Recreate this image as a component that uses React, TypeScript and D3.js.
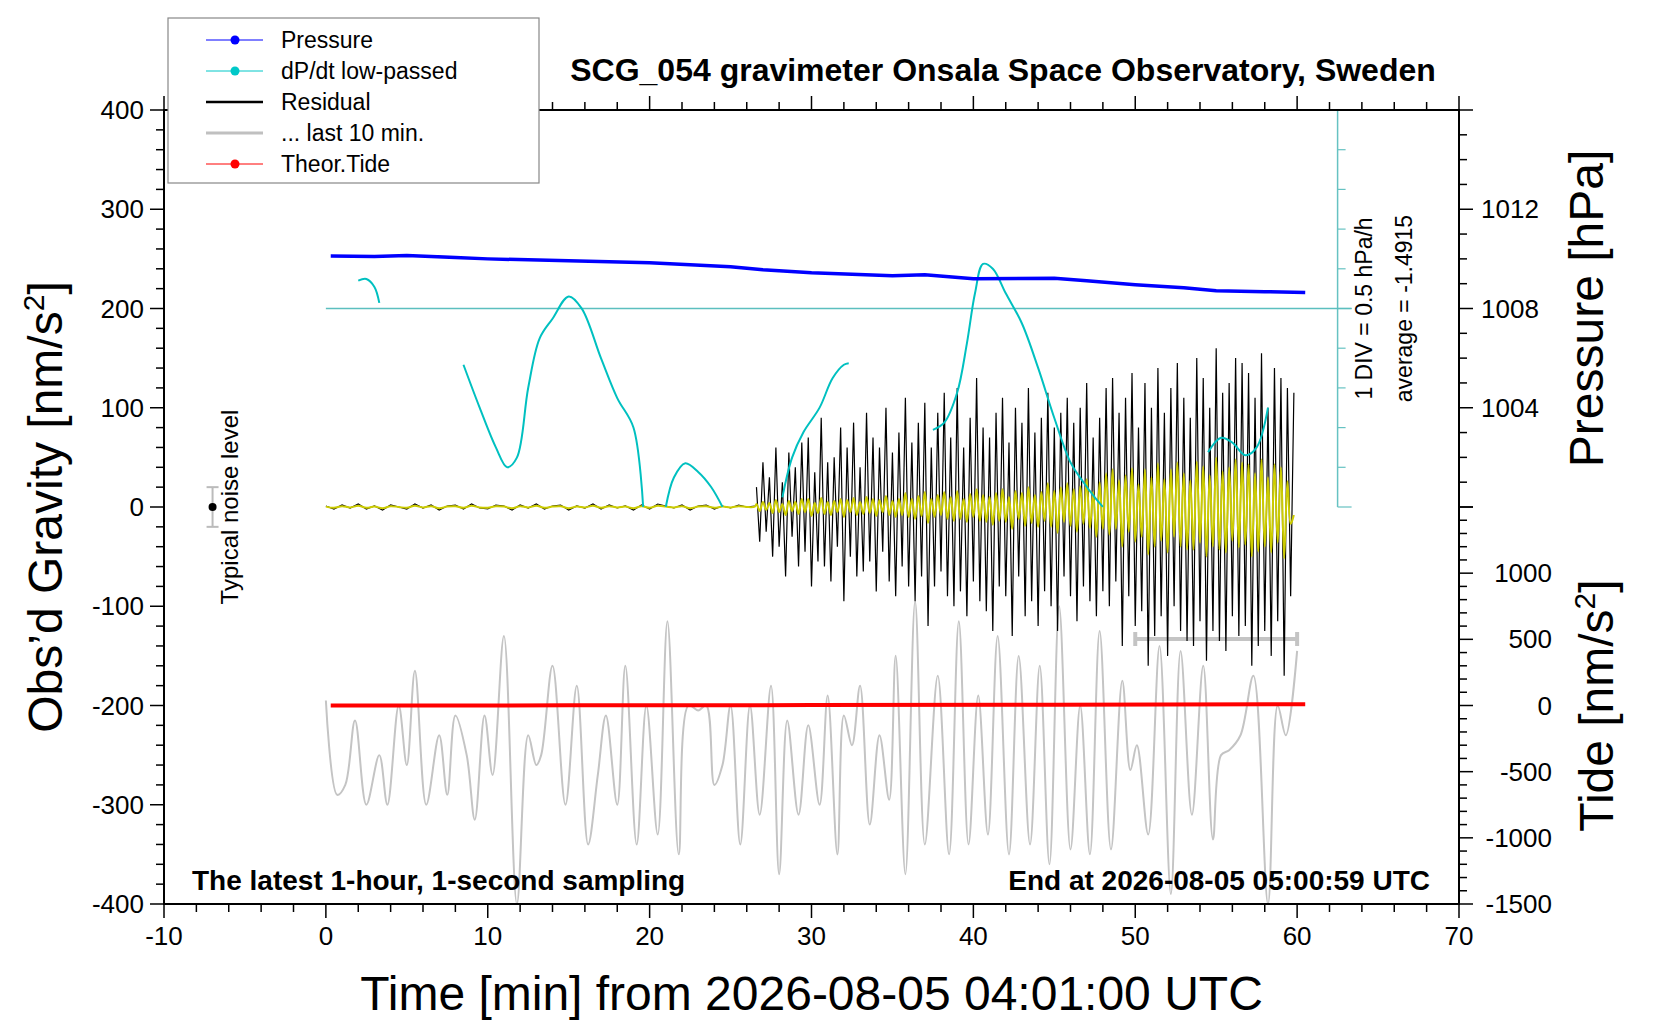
import React from "react";
import * as d3 from "d3";

// pressure [hPa] at time [min]
const pressureT = [0.3, 3, 5, 8, 10, 15, 20, 25, 27, 30, 35, 37, 40, 45, 47, 50, 53, 55, 58, 60.5];
const pressureV = [1010.12, 1010.1, 1010.14, 1010.06, 1010.0, 1009.92, 1009.84, 1009.68, 1009.56, 1009.44, 1009.32, 1009.36, 1009.2, 1009.22, 1009.12, 1008.96, 1008.84, 1008.72, 1008.68, 1008.64];

// dP/dt low-passed [hPa/h], broken into visible segments
const dpdtSegments: [number, number][][] = [
  [[2.0, -1.14], [2.5, -1.12], [3.0, -1.22], [3.3, -1.42]],
  [[8.5, -2.2], [9.5, -2.74], [10.5, -3.24], [11.2, -3.49], [11.8, -3.37], [12.5, -2.49], [13.2, -1.87], [14, -1.62], [15, -1.34], [15.8, -1.49], [17, -2.12], [18, -2.62], [19, -2.99], [19.6, -3.99]],
  [[21, -3.99], [21.5, -3.62], [22.2, -3.44], [23, -3.55], [23.8, -3.74], [24.5, -3.99]],
  [[28.2, -3.87], [28.8, -3.37], [29.5, -3.05], [30.5, -2.74], [31.3, -2.37], [32, -2.2], [32.3, -2.18]],
  [[37.5, -3.02], [38.2, -2.93], [39, -2.55], [39.6, -1.93], [40.1, -1.3], [40.6, -0.93], [41.2, -0.99], [42, -1.3], [43, -1.68], [44, -2.24], [45, -2.87], [46, -3.43], [46.8, -3.68], [47.5, -3.87], [48, -3.99]],
  [[54.5, -3.3], [55.3, -3.12], [56, -3.18], [56.8, -3.34], [57.5, -3.24], [58.2, -2.74]],
];
const dpdtAverage = -1.4915;

// residual [nm/s^2]: quiet part (0 .. 26.5 min, every 0.5 min)
const residualQuiet = [1, -2, 2, -1, 3, -2, 1, -3, 2, 0, -2, 3, -1, 2, -3, 1, 2, -2, 3, -1, -2, 2, 1, -3, 2, -1, 3, -2, 1, 2, -3, 1, -1, 3, -2, 2, -1, 1, -3, 2, -2, 3, 1, -1, 2, -3, 1, 2, -2, 1, -1, 2, 0, 1];
// residual, active part (26.6 .. 60.4 min, every 0.2 min)
const residualActive = [
  20, -35, 45, -25, 30, -50, 60, -40, 25, -70, 55, -30, 40, -60, 65,
  -45, 70, -80, 35, -55, 90, -60, 45, -75, 50, -40, 80, -95, 60, -50,
  85, -70, 40, -65, 95, -55, 70, -85, 60, -45, 100, -75, 55, -90, 75,
  -60, 110, -80, 65, -95, 85, -70, 105, -120, 60, -80, 95, -65, 115, -90,
  70, -100, 120, -85, 60, -110, 90, -75, 130, -95, 80, -105, 70, -125, 95,
  -80, 110, -90, 65, -130, 100, -70, 85, -110, 120, -95, 75, -120, 90, -85,
  115, -100, 80, -125, 95, -70, 110, -90, 85, -115, 100, -80, 125, -95, 70,
  -110, 90, -85, 120, -100, 130, -75, 95, -140, 110, -90, 135, -120, 80, -105,
  125, -160, 100, -130, 140, -110, 95, -150, 120, -100, 145, -125, 110, -135, 90,
  -140, 150, -115, 130, -155, 100, -125, 160, -135, 115, -145, 125, -110, 150, -130,
  145, -120, 135, -160, 110, -140, 155, -125, 100, -150, 140, -115, 130, -170, 120, -90, 115,
];
// filtered residual (yellow), same time grid as residualActive
const filteredActive = [
  3, -4, 5, -3, 4, -6, 7, -5, 3, -8, 6, -4, 5, -7, 8,
  -5, 8, -9, 4, -6, 9, -7, 5, -8, 6, -5, 8, -10, 7, -5,
  9, -8, 5, -7, 10, -6, 8, -9, 7, -5, 11, -8, 6, -10, 8,
  -8, 14, -10, 8, -12, 11, -9, 15, -16, 8, -10, 12, -8, 15, -12,
  10, -14, 16, -12, 8, -15, 13, -10, 18, -14, 12, -15, 10, -18, 14,
  -14, 18, -15, 10, -22, 16, -12, 14, -19, 20, -16, 12, -20, 15, -14,
  24, -20, 16, -26, 20, -15, 24, -19, 18, -25, 21, -17, 28, -21, 15,
  -30, 25, -22, 34, -28, 38, -22, 27, -40, 32, -25, 39, -35, 23, -30,
  38, -48, 30, -40, 44, -34, 28, -46, 38, -30, 45, -40, 34, -43, 27,
  -43, 46, -36, 41, -50, 32, -40, 50, -43, 36, -46, 40, -34, 48, -41,
  45, -38, 43, -50, 34, -45, 48, -40, 30, -46, 43, -36, 40, -52, 26, -17, -8,
];

// residual of last 10 min, expanded (gray), [t, nm/s^2]
const lastTenT = [0, 0.7, 1.2, 1.8, 2.5, 3.3, 3.8, 4.5, 5, 5.5, 6.2, 7, 7.5, 8, 8.7, 9.2, 9.8, 10.3, 11, 11.8, 12.5, 13, 13.3, 14, 14.8, 15.5, 16.2, 16.8, 17.3, 18, 18.5, 19.2, 19.8, 20.5, 21.1, 21.8, 22.4, 23, 23.5, 24, 24.5, 25, 25.6, 26.2, 26.8, 27.5, 28, 28.5, 29.2, 29.8, 30.5, 31, 31.6, 32, 32.5, 33, 33.6, 34.2, 34.8, 35.2, 35.8, 36.4, 37, 37.8, 38.5, 39.1, 39.7, 40.3, 40.9, 41.5, 42.2, 42.8, 43.5, 44.1, 44.7, 45.3, 46, 46.6, 47.2, 47.8, 48.5, 49.2, 49.7, 50.1, 50.8, 51.5, 52.2, 52.8, 53.5, 54.2, 54.8, 55.3, 55.8, 56.5, 57.3, 58.2, 58.8, 59.3, 60];
const lastTenV = [-195, -290, -280, -215, -300, -250, -300, -200, -260, -165, -300, -230, -290, -210, -250, -315, -210, -270, -130, -400, -230, -260, -250, -160, -300, -180, -340, -270, -210, -300, -160, -340, -200, -330, -115, -350, -200, -205, -200, -280, -260, -200, -340, -200, -310, -180, -370, -215, -310, -220, -300, -190, -350, -210, -240, -180, -320, -230, -295, -150, -370, -95, -340, -170, -350, -115, -340, -190, -330, -130, -350, -150, -340, -160, -360, -100, -345, -200, -350, -125, -345, -175, -265, -240, -330, -140, -390, -145, -310, -160, -335, -250, -245, -230, -170, -400, -200, -230, -145];

// theoretical tide [nm/s^2]
const tideT = [0.3, 15, 30, 45, 60.5];
const tideV = [0, 1, 3, 6, 10];

const xTicks = [-10, 0, 10, 20, 30, 40, 50, 60, 70];
const yTicks = [-400, -300, -200, -100, 0, 100, 200, 300, 400];
const pressureTicks = [1004, 1008, 1012];
const tideTicks = [-1500, -1000, -500, 0, 500, 1000];

const legendItems = [
  { label: "Pressure", color: "#0000ff", dot: true, width: 1 },
  { label: "dP/dt low-passed", color: "#00c8c8", dot: true, width: 1 },
  { label: "Residual", color: "#000000", dot: false, width: 2.5 },
  { label: "... last 10 min.", color: "#c0c0c0", dot: false, width: 3 },
  { label: "Theor.Tide", color: "#ff0000", dot: true, width: 1 },
];

const W = 1660;
const H = 1020;
const L = 164, R = 1459, T = 110, B = 904;
const FONT = "'Liberation Sans', Arial, Helvetica, sans-serif";

export default function App() {
  const x = d3.scaleLinear().domain([-10, 70]).range([L, R]);
  const y = d3.scaleLinear().domain([-400, 400]).range([B, T]);
  const yP = d3.scaleLinear().domain([1000, 1016]).range([y(0), y(400)]);
  const yT = d3.scaleLinear().domain([-1500, 1500]).range([y(-400), y(0)]);
  const yD = d3.scaleLinear().domain([dpdtAverage - 2.5, dpdtAverage + 2.5]).range([y(0), y(400)]);

  const smooth = d3.line<[number, number]>().x((d) => d[0]).y((d) => d[1]).curve(d3.curveCatmullRom);
  const straight = d3.line<[number, number]>().x((d) => d[0]).y((d) => d[1]);

  const pressurePts = pressureT.map((t, i) => [x(t), yP(pressureV[i])] as [number, number]);
  const quietPts = residualQuiet.map((v, i) => [x(i * 0.5), y(v)] as [number, number]);
  const activePts = residualActive.map((v, i) => [x(26.6 + i * 0.2), y(v)] as [number, number]);
  const filtPts = [
    ...residualQuiet.map((v, i) => [x(i * 0.5), y(v * 0.4)] as [number, number]),
    ...filteredActive.map((v, i) => [x(26.6 + i * 0.2), y(v)] as [number, number]),
  ];
  const grayPts = lastTenT.map((t, i) => [x(t), y(lastTenV[i])] as [number, number]);
  const tidePts = tideT.map((t, i) => [x(t), yT(tideV[i])] as [number, number]);

  const xMinor = d3.range(-10, 70.1, 2);
  const yMinor = d3.range(-400, 400.1, 20);
  const pMinor = d3.range(1000, 1016.1, 1);
  const tMinor = d3.range(-1500, 1500.1, 100);
  const dTicks = d3.range(0, 400.1, 40);
  const xd = x(62.5);

  return (
    <svg width={W} height={H} style={{ position: "absolute", left: 0, top: 0, background: "#fff" }} fontFamily={FONT}>
      {/* cyan dP/dt axis */}
      <line x1={xd} x2={xd} y1={y(400)} y2={y(0)} stroke="#66c2c2" strokeWidth={1.5} />
      {dTicks.map((v) => (
        <line key={v} x1={xd} x2={xd + (v % 200 === 0 ? 14 : 8)} y1={y(v)} y2={y(v)} stroke="#66c2c2" strokeWidth={1.2} />
      ))}
      <line x1={x(0)} x2={xd + 14} y1={yD(dpdtAverage)} y2={yD(dpdtAverage)} stroke="#5cbfbf" strokeWidth={1.5} />
      <text transform={`translate(${xd + 34},${y(200)}) rotate(-90)`} textAnchor="middle" fontSize={23}>1 DIV = 0.5 hPa/h</text>
      <text transform={`translate(${xd + 74},${y(200)}) rotate(-90)`} textAnchor="middle" fontSize={23}>average = -1.4915</text>

      {/* gray last 10 min */}
      <path d={smooth(grayPts) ?? ""} fill="none" stroke="#c4c4c4" strokeWidth={2} />
      <line x1={x(50)} x2={x(60)} y1={y(-133)} y2={y(-133)} stroke="#c4c4c4" strokeWidth={4} />
      <line x1={x(50)} x2={x(50)} y1={y(-133) - 7} y2={y(-133) + 7} stroke="#c4c4c4" strokeWidth={4} />
      <line x1={x(60)} x2={x(60)} y1={y(-133) - 7} y2={y(-133) + 7} stroke="#c4c4c4" strokeWidth={4} />

      {/* theoretical tide */}
      <path d={straight(tidePts) ?? ""} fill="none" stroke="#ff0000" strokeWidth={4} />

      {/* residual */}
      <path d={straight(quietPts) ?? ""} fill="none" stroke="#000" strokeWidth={1.2} />
      <path d={straight(activePts) ?? ""} fill="none" stroke="#000" strokeWidth={1.2} />
      <path d={smooth(filtPts) ?? ""} fill="none" stroke="#cccc00" strokeWidth={2} />

      {/* dP/dt */}
      {dpdtSegments.map((seg, i) => (
        <path key={i} d={smooth(seg.map((d) => [x(d[0]), yD(d[1])] as [number, number])) ?? ""} fill="none" stroke="#00c0c0" strokeWidth={2} />
      ))}

      {/* pressure */}
      <path d={straight(pressurePts) ?? ""} fill="none" stroke="#0000ff" strokeWidth={3.5} />

      {/* noise level marker */}
      <line x1={x(-7)} x2={x(-7)} y1={y(20)} y2={y(-20)} stroke="#bbb" strokeWidth={2} />
      <line x1={x(-7) - 6} x2={x(-7) + 6} y1={y(20)} y2={y(20)} stroke="#bbb" strokeWidth={2} />
      <line x1={x(-7) - 6} x2={x(-7) + 6} y1={y(-20)} y2={y(-20)} stroke="#bbb" strokeWidth={2} />
      <circle cx={x(-7)} cy={y(0)} r={4} fill="#000" />
      <text transform={`translate(${x(-5.4)},${y(0)}) rotate(-90)`} textAnchor="middle" fontSize={24}>Typical noise level</text>

      {/* frame */}
      <rect x={L} y={T} width={R - L} height={B - T} fill="none" stroke="#000" strokeWidth={2} />

      {/* bottom / top axis */}
      {xMinor.map((v) => {
        const major = v % 10 === 0;
        return (
          <g key={v}>
            <line x1={x(v)} x2={x(v)} y1={B} y2={B + (major ? 14 : 8)} stroke="#000" strokeWidth={1.5} />
            <line x1={x(v)} x2={x(v)} y1={T} y2={T - (major ? 14 : 8)} stroke="#000" strokeWidth={1.5} />
          </g>
        );
      })}
      {xTicks.map((v) => (
        <text key={v} x={x(v)} y={B + 41} textAnchor="middle" fontSize={26}>{v}</text>
      ))}
      <text x={(L + R) / 2} y={1010} textAnchor="middle" fontSize={48}>Time [min] from 2026-08-05 04:01:00 UTC</text>

      {/* left axis */}
      {yMinor.map((v) => (
        <line key={v} x1={L} x2={L - (v % 100 === 0 ? 14 : 8)} y1={y(v)} y2={y(v)} stroke="#000" strokeWidth={1.5} />
      ))}
      {yTicks.map((v) => (
        <text key={v} x={L - 20} y={y(v) + 9} textAnchor="end" fontSize={26}>{v}</text>
      ))}
      <text transform={`translate(62,${(T + B) / 2}) rotate(-90)`} textAnchor="middle" fontSize={48}>
        Obs’d Gravity [nm/s<tspan dy={-18} fontSize={30}>2</tspan><tspan dy={18}>]</tspan>
      </text>

      {/* right pressure axis */}
      {pMinor.map((v) => (
        <line key={v} x1={R} x2={R + (v % 4 === 0 ? 14 : 8)} y1={yP(v)} y2={yP(v)} stroke="#000" strokeWidth={1.5} />
      ))}
      {pressureTicks.map((v) => (
        <text key={v} x={R + 22} y={yP(v) + 9} fontSize={26}>{v}</text>
      ))}
      <text transform={`translate(1603,${y(200)}) rotate(-90)`} textAnchor="middle" fontSize={48}>Pressure [hPa]</text>

      {/* right tide axis */}
      {tMinor.map((v) => (
        <line key={v} x1={R} x2={R + (v % 500 === 0 ? 14 : 8)} y1={yT(v)} y2={yT(v)} stroke="#000" strokeWidth={1.5} />
      ))}
      {tideTicks.map((v) => (
        <text key={v} x={R + 93} y={yT(v) + 9} textAnchor="end" fontSize={26}>{v}</text>
      ))}
      <text transform={`translate(1613,${y(-200)}) rotate(-90)`} textAnchor="middle" fontSize={48}>
        Tide [nm/s<tspan dy={-18} fontSize={30}>2</tspan><tspan dy={18}>]</tspan>
      </text>

      {/* in-plot captions */}
      <text x={L + 28} y={B - 14} fontSize={28} fontWeight="bold">The latest 1-hour, 1-second sampling</text>
      <text x={R - 29} y={B - 14} fontSize={28} fontWeight="bold" textAnchor="end">End at 2026-08-05 05:00:59 UTC</text>
      <text x={1003} y={81} fontSize={32} fontWeight="bold" textAnchor="middle">SCG_054 gravimeter Onsala Space Observatory, Sweden</text>

      {/* legend */}
      <g transform="translate(168,18)">
        <rect x={0} y={0} width={371} height={165} fill="#fff" stroke="#888" strokeWidth={1.2} />
        {legendItems.map((it, i) => (
          <g key={it.label} transform={`translate(0,${22 + i * 31})`}>
            <line x1={38} x2={95} y1={0} y2={0} stroke={it.color} strokeWidth={it.width} />
            {it.dot && <circle cx={67} cy={0} r={4.5} fill={it.color} />}
            <text x={113} y={8} fontSize={23}>{it.label}</text>
          </g>
        ))}
      </g>
    </svg>
  );
}
